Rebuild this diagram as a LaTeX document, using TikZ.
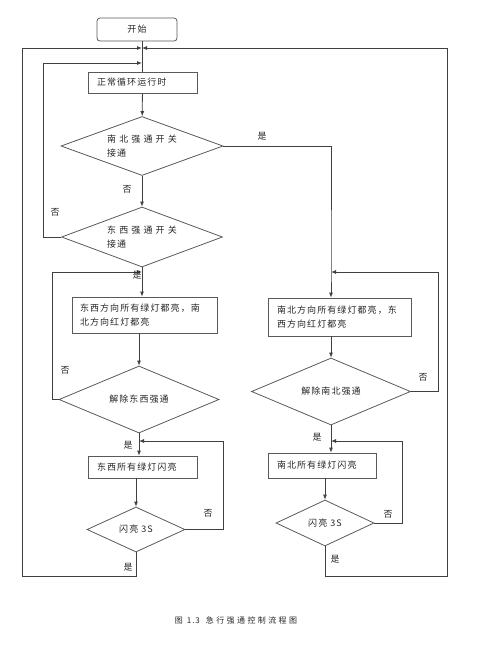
\documentclass[tikz,border=0pt]{standalone}
\usepackage{fontspec}
\newfontfamily\cjk[LetterSpace=12]{Noto Sans CJK SC}
\usetikzlibrary{shapes.geometric,arrows.meta}

\tikzset{
  line/.style={draw=black!75, line width=0.8pt},
  arr/.style={line, -{Latex[length=5pt,width=4pt]}},
  box/.style={draw=black!65, line width=0.8pt, rectangle, inner ysep=0pt, align=left, text=black!85},
  cond/.style={draw=black!65, line width=0.8pt, diamond, inner sep=0pt, align=left, text=black!85},
  lab/.style={inner sep=0pt, text=black!85},
}

\begin{document}
\begin{tikzpicture}[x=1pt,y=-1pt, every node/.style={font=\cjk\fontsize{9}{14}\selectfont}]
    \useasboundingbox (0,0) rectangle (493,649);

    % Caixas
    \node[box, rounded corners=3pt, align=center, minimum width=80pt, minimum height=23pt] (start) at (137,29.5) {开始};
    \node[box, text width=91pt, inner xsep=9pt, minimum height=21pt] (run) at (142.5,82.5) {正常循环运行时};
    \node[cond, minimum width=162pt, minimum height=59pt, aspect=2.75] (d1) at (142,146)
        {{\addfontfeature{LetterSpace=35}南北强通开关}\\接通};
    \node[cond, minimum width=161pt, minimum height=60pt, aspect=2.68] (d2) at (142,237)
        {{\addfontfeature{LetterSpace=35}东西强通开关}\\接通};

    % Coluna esquerda
    \node[box, text width=129pt, inner xsep=8pt, minimum height=36pt] (ew) at (144.5,315)
        {东西方向所有绿灯都亮，南\\北方向红灯都亮};
    \node[cond, minimum width=160pt, minimum height=67pt, aspect=2.39] (ewrel) at (139,399.5) {解除东西强通};
    \node[box, text width=91pt, inner xsep=9pt, minimum height=22pt] (ewflash) at (142.5,467) {东西所有绿灯闪亮};
    \node[cond, align=center, minimum width=98pt, minimum height=45pt, aspect=2.18] (ew3s) at (136,529.5) {闪亮 3S};

    % Coluna direita
    \node[box, text width=125pt, inner xsep=9pt, minimum height=38pt] (ns) at (339.5,317)
        {南北方向所有绿灯都亮，东\\西方向红灯都亮};
    \node[cond, minimum width=159pt, minimum height=67pt, aspect=2.37] (nsrel) at (331,391.5) {解除南北强通};
    \node[box, text width=90pt, inner xsep=9pt, minimum height=25pt] (nsflash) at (322,465.5) {南北所有绿灯闪亮};
    \node[cond, align=center, minimum width=98pt, minimum height=46pt, aspect=2.13] (ns3s) at (325,523) {闪亮 3S};

    % Pontos de junção
    \coordinate (j1) at (142,48);
    \coordinate (j2) at (142,63);
    \coordinate (colL) at (142,272);
    \coordinate (colR) at (331,272);
    \coordinate (lpB) at (43,63);
    \coordinate (lpA) at (52,272);
    \coordinate (rpA) at (438,272);
    \coordinate (lpO) at (22,576);
    \coordinate (rpO) at (447,576);
    \coordinate (ewj) at (139,441);
    \coordinate (ewr) at (223,441);
    \coordinate (nsj) at (331,441);
    \coordinate (nsr) at (402,441);

    % Ligações
    \draw[line] (start.south -| run.north) -- (run.north);
    \draw[arr] (run) -- (d1);
    \draw[arr] (d1) -- (d2);
    \draw[arr] (d1.east) -| (colR) -- (colR |- ns.north);
    \draw[arr] (d2.south) -- (d2.south |- ew.north);
    \draw[arr] (d2.west) -| (lpB) -- (j2);
    \draw[arr] (ew.south -| ewrel.north) -- (ewrel.north);
    \draw[arr] (ewrel.west) -| (lpA) -- (colL);
    \draw[arr] (ewrel.south) -- (ewrel.south |- ewflash.north);
    \draw[arr] (ewflash.south -| ew3s.north) -- (ew3s.north);
    \draw[arr] (ew3s.east) -| (ewr) -- (ewj);
    \draw[arr] (ew3s.south) |- (lpO) |- (j1);
    \draw[arr] (ns.south -| nsrel.north) -- (nsrel.north);
    \draw[arr] (nsrel.east) -| (rpA) -- (colR);
    \draw[arr] (nsrel.south) -- (nsrel.south |- nsflash.north);
    \draw[arr] (nsflash.south -| ns3s.north) -- (ns3s.north);
    \draw[arr] (ns3s.east) -| (nsr) -- (nsj);
    \draw[arr] (ns3s.south) |- (rpO) |- (j1);

    % Rótulos
    \node[lab] (y1) at (262,136) {是};
    \node[lab] (n1) at (127,189) {否};
    \node[lab] (n2) at (55,212) {否};
    \node[lab] (y2) at (137,275) {是};
    \node[lab] (n3) at (65,370) {否};
    \node[lab] (n4) at (423,377) {否};
    \node[lab] (y3) at (128,445) {是};
    \node[lab] (n5) at (208,513) {否};
    \node[lab] (y4) at (128,567) {是};
    \node[lab] (y5) at (317,437) {是};
    \node[lab] (n6) at (388,514) {否};
    \node[lab] (y6) at (335,559) {是};

    % Legenda
    \node[lab, font=\cjk\fontsize{8}{10}\selectfont] (cap) at (236,620)
        {{\addfontfeature{LetterSpace=30}图}\hspace{4pt}1.3\hspace{6pt}{\addfontfeature{LetterSpace=30}急行强通控制流程图}};
\end{tikzpicture}
\end{document}
